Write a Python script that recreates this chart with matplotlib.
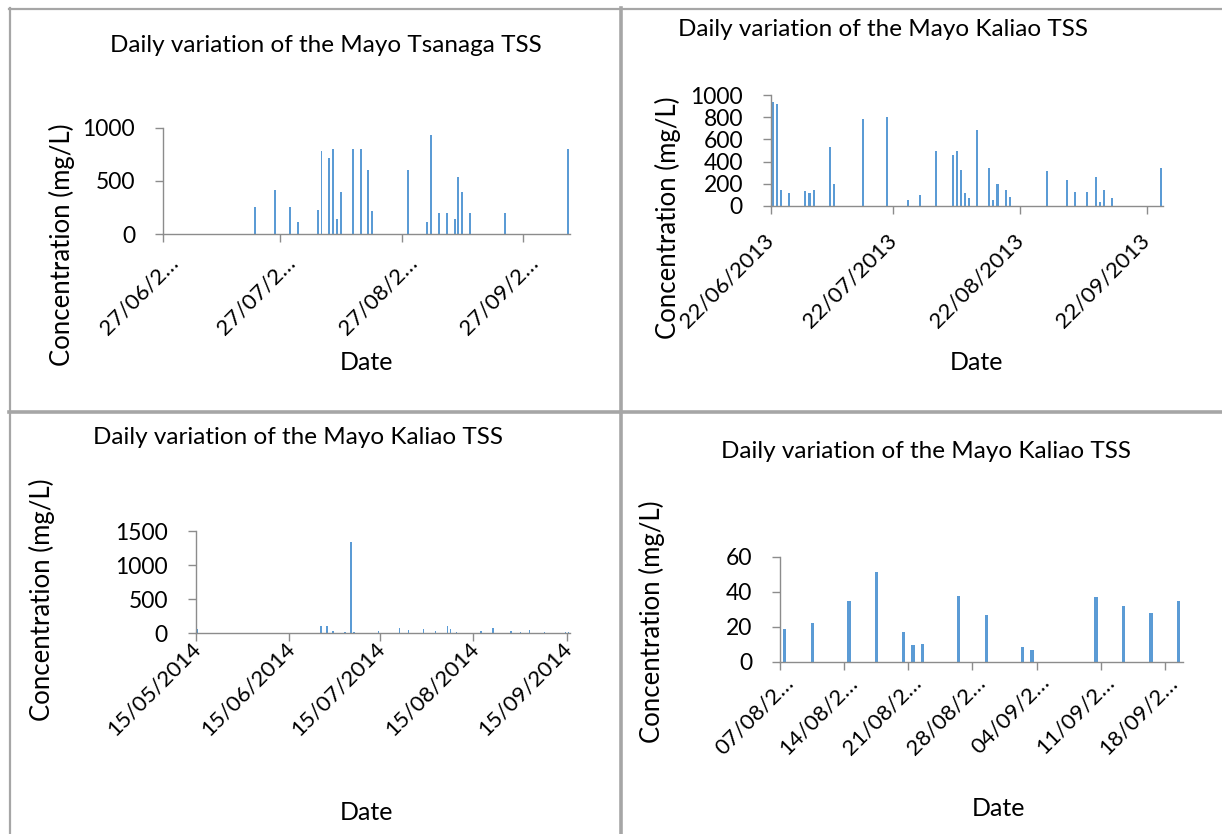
import numpy as np
import pandas as pd
import matplotlib
matplotlib.use('Agg')
import matplotlib.pyplot as plt
import matplotlib.dates as mdates
from matplotlib.lines import Line2D
from matplotlib.transforms import ScaledTranslation

plt.rcParams['font.family'] = ['Lato', 'DejaVu Sans']

# ---- data ----
# Mayo Tsanaga 2013
tsanaga_dates = ['20/07/2013', '25/07/2013', '29/07/2013', '31/07/2013', '05/08/2013', '06/08/2013',
                 '08/08/2013', '09/08/2013', '10/08/2013', '11/08/2013', '14/08/2013', '16/08/2013',
                 '18/08/2013', '19/08/2013', '28/08/2013', '02/09/2013', '03/09/2013', '05/09/2013',
                 '07/09/2013', '09/09/2013', '10/09/2013', '11/09/2013', '13/09/2013', '22/09/2013',
                 '08/10/2013']
tsanaga_tss = [255, 420, 255, 115, 230, 780, 720, 800, 140, 400, 800, 800,
               600, 220, 600, 120, 930, 200, 200, 140, 540, 400, 200, 200, 800]
tsanaga_ticks = ['27/06/2013', '27/07/2013', '27/08/2013', '27/09/2013']
tsanaga_ticklabels = ['27/06/2…', '27/07/2…', '27/08/2…', '27/09/2…']

# Mayo Kaliao 2013
kaliao13_dates = ['22/06/2013', '23/06/2013', '24/06/2013', '26/06/2013', '30/06/2013', '01/07/2013',
                  '02/07/2013', '06/07/2013', '07/07/2013', '14/07/2013', '20/07/2013', '25/07/2013',
                  '28/07/2013', '01/08/2013', '05/08/2013', '06/08/2013', '07/08/2013', '08/08/2013',
                  '09/08/2013', '11/08/2013', '14/08/2013', '15/08/2013', '16/08/2013', '18/08/2013',
                  '19/08/2013', '28/08/2013', '02/09/2013', '04/09/2013', '07/09/2013', '09/09/2013',
                  '10/09/2013', '11/09/2013', '13/09/2013', '25/09/2013']
kaliao13_tss = [940, 920, 140, 120, 135, 120, 140, 530, 200, 780, 800, 55,
                100, 500, 460, 500, 325, 120, 70, 685, 345, 50, 200, 140,
                85, 315, 230, 125, 130, 265, 35, 140, 70, 340]
kaliao13_ticks = ['22/06/2013', '22/07/2013', '22/08/2013', '22/09/2013']
kaliao13_ticklabels = ['22/06/2013', '22/07/2013', '22/08/2013', '22/09/2013']

# Mayo Kaliao 2014
kaliao14_dates = ['15/05/2014', '25/06/2014', '27/06/2014', '29/06/2014', '03/07/2014', '05/07/2014',
                  '06/07/2014', '14/07/2014', '21/07/2014', '24/07/2014', '29/07/2014', '02/08/2014',
                  '06/08/2014', '07/08/2014', '09/08/2014', '17/08/2014', '21/08/2014', '27/08/2014',
                  '30/08/2014', '02/09/2014', '07/09/2014', '14/09/2014', '15/09/2014']
kaliao14_tss = [70, 110, 110, 30, 20, 1340, 20, 35, 85, 45, 65, 35,
                110, 60, 15, 35, 85, 35, 20, 45, 25, 20, 20]
kaliao14_ticks = ['15/05/2014', '15/06/2014', '15/07/2014', '15/08/2014', '15/09/2014']
kaliao14_ticklabels = ['15/05/2014', '15/06/2014', '15/07/2014', '15/08/2014', '15/09/2014']

# Mayo Kaliao, Aug-Sep
kaliao_as_dates = ['07/08/2014', '10/08/2014', '14/08/2014', '17/08/2014', '20/08/2014', '21/08/2014',
                   '22/08/2014', '26/08/2014', '29/08/2014', '02/09/2014', '03/09/2014', '10/09/2014',
                   '13/09/2014', '16/09/2014', '19/09/2014']
kaliao_as_tss = [18.6, 22, 35, 51, 17.3, 9.5, 10, 37.5, 27, 8.5, 7, 37, 32, 28, 35]
kaliao_as_ticks = ['07/08/2014', '14/08/2014', '21/08/2014', '28/08/2014',
                   '04/09/2014', '11/09/2014', '18/09/2014']
kaliao_as_ticklabels = ['07/08/2…', '14/08/2…', '21/08/2…', '28/08/2…',
                        '04/09/2…', '11/09/2…', '18/09/2…']

W, H = 1222, 834
fig = plt.figure(figsize=(W / 100, H / 100), dpi=100)

BAR = '#5B9BD5'
AXC = '#8C8C8C'


def dnum(lst):
    return mdates.date2num(pd.to_datetime(lst, dayfirst=True))


def panel(rect, dates, vals, ticks, ticklabels, xend, ymax, ystep, width, dx, dy):
    x0, x1, yb, yt = rect
    ax = fig.add_axes([x0 / W, (H - yb) / H, (x1 - x0) / W, (yb - yt) / H])
    x = dnum(dates) + 0.5
    ax.bar(x, vals, width=width, color=BAR, linewidth=0)
    tk = dnum(ticks)
    ax.set_xlim(tk[0], dnum([xend])[0])
    ax.set_ylim(0, ymax)
    ax.set_yticks(np.arange(0, ymax + 1, ystep))
    ax.tick_params(axis='y', labelsize=16.5, length=6, color=AXC, width=1, pad=14)
    ax.tick_params(axis='x', length=6, color=AXC, width=1, pad=0)
    for s in ['top', 'right']:
        ax.spines[s].set_visible(False)
    for s in ['left', 'bottom']:
        ax.spines[s].set_color(AXC)
        ax.spines[s].set_linewidth(1)
    ax.set_xticks(tk)
    ax.set_xticklabels(ticklabels, rotation=45, ha='right', va='center',
                       rotation_mode='anchor', fontsize=16)
    # shift the rotated labels (dx right, dy down) in pixels
    off = ScaledTranslation((dx - 7) / 100, -(dy - 4) / 100, fig.dpi_scale_trans)
    for lab in ax.get_xticklabels():
        lab.set_transform(lab.get_transform() + off)
    return ax


panel((163, 570, 234.3, 127.7), tsanaga_dates, tsanaga_tss, tsanaga_ticks, tsanaga_ticklabels,
      '09/10/2013', 1000, 500, 0.5, 19, 21)
panel((770.7, 1163, 206, 95), kaliao13_dates, kaliao13_tss, kaliao13_ticks, kaliao13_ticklabels,
      '26/09/2013', 1000, 200, 0.5, 7, 27)
panel((195.7, 570, 633.3, 531.3), kaliao14_dates, kaliao14_tss, kaliao14_ticks, kaliao14_ticklabels,
      '16/09/2014', 1500, 500, 0.45, 9, 8)
panel((780.3, 1183, 662, 556.7), kaliao_as_dates, kaliao_as_tss, kaliao_as_ticks, kaliao_as_ticklabels,
      '20/09/2014', 60, 20, 0.35, 17, 13)


def ftext(x, y, s, **kw):
    fig.text(x / W, 1 - y / H, s, ha='center', va='center', **kw)


titles = ['Daily variation of the Mayo Tsanaga TSS', 'Daily variation of the Mayo Kaliao TSS',
          'Daily variation of the Mayo Kaliao TSS', 'Daily variation of the Mayo Kaliao TSS']
for (x, y), t in zip([(326, 45), (883, 30), (298, 438), (926, 451)], titles):
    ftext(x, y, t, fontsize=17.5)
for x, y in [(62, 245), (668, 218), (42, 600), (652, 622)]:
    ftext(x, y, 'Concentration (mg/L)', fontsize=18.5, rotation=90)
for x, y in [(366, 362), (977, 362), (366, 812), (998, 808)]:
    ftext(x, y, 'Date', fontsize=18)

# table borders
BC = '#A6A6A6'
def hline(y, x0, x1, lw):
    fig.add_artist(Line2D([x0 / W, x1 / W], [1 - y / H, 1 - y / H], color=BC, lw=lw))
def vline(x, y0, y1, lw):
    fig.add_artist(Line2D([x / W, x / W], [1 - y0 / H, 1 - y1 / H], color=BC, lw=lw))

hline(8.5, 9, W, 1.6)
vline(9.5, 8, H, 1.6)
vline(620.5, 8, H, 2.6)
hline(412, 9, W, 2.6)

fig.savefig('out.png', dpi=100)
